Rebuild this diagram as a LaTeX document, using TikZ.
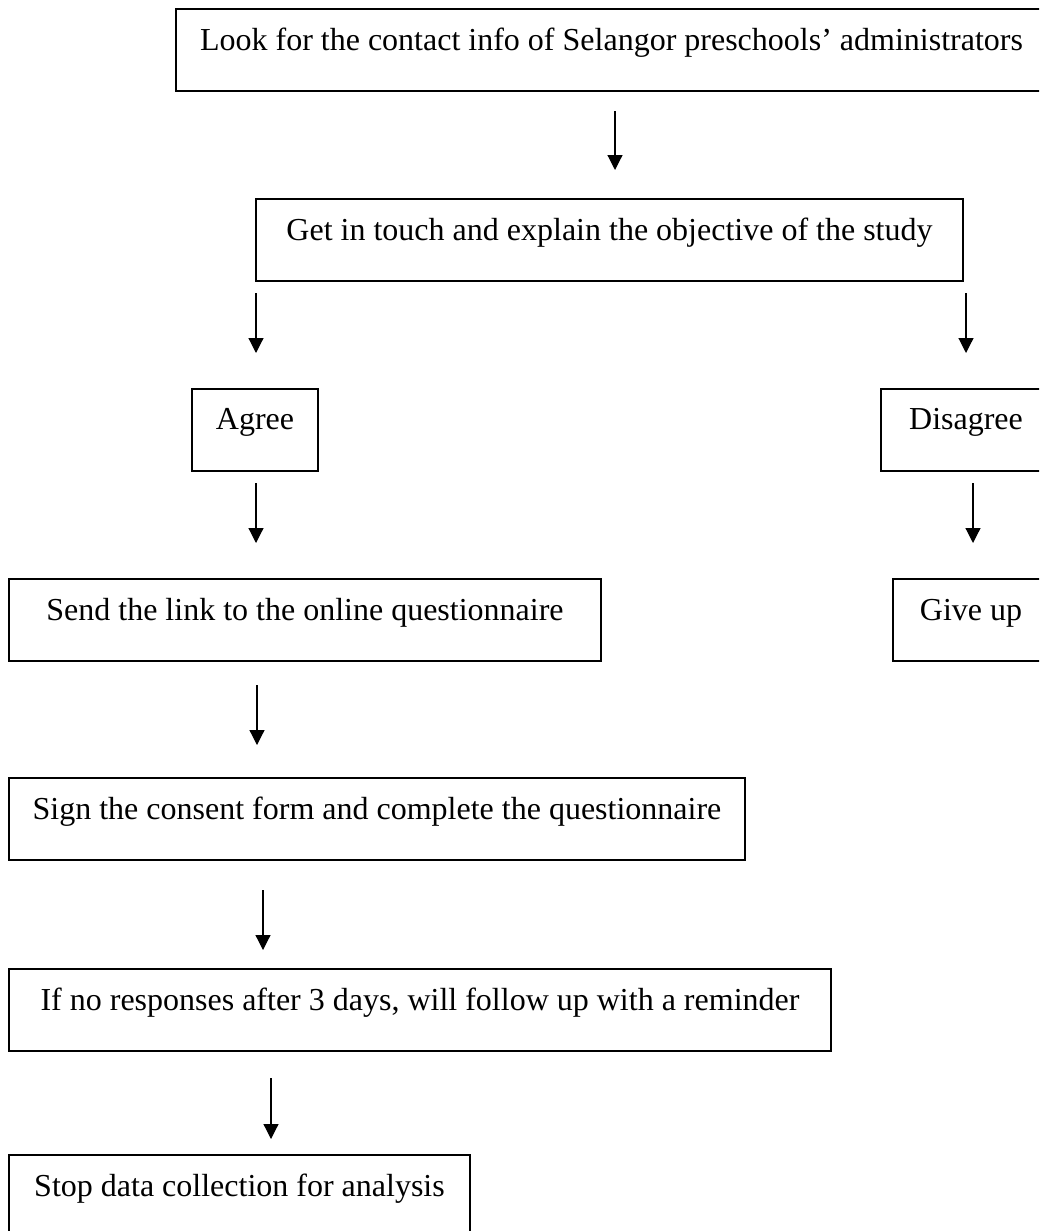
\documentclass[tikz,border=0pt]{standalone}
\usepackage{fontspec}
\setmainfont{Liberation Serif}
\usepackage{tikz}
\usetikzlibrary{arrows.meta}

\tikzset{
  stepbox/.style={draw=black, line width=1pt, inner sep=0pt,
    text height=20.5pt, text depth=20.5pt,
    font=\fontsize{16}{19}\selectfont},
  link/.style={draw=black, line width=0.6pt,
    -{Triangle[width=7.5pt,length=7.5pt]}}
}

\begin{document}
\begin{tikzpicture}[x=0.5pt,y=-0.5pt]
\useasboundingbox (0,0) rectangle (1039,1231);
\clip (0,0) rectangle (1039,1231);
% boxes
\node [stepbox, minimum width=435.5pt] (look) at (611.5,50) {Look for the contact info of Selangor preschools’ administrators};
\node [stepbox, minimum width=353.5pt] (touch) at (609.5,240) {Get in touch and explain the objective of the study};
\node [stepbox, minimum width=63pt] (agree) at (255,429.5) {Agree};
\node [stepbox, minimum width=85pt] (disagree) at (966,429.5) {Disagree};
\node [stepbox, minimum width=296pt] (send) at (305,620) {Send the link to the online questionnaire};
\node [stepbox, minimum width=78pt] (giveup) at (971,620) {Give up};
\node [stepbox, minimum width=368pt] (sign) at (377,819) {Sign the consent form and complete the questionnaire};
\node [stepbox, minimum width=411pt] (remind) at (420,1010) {If no responses after 3 days, will follow up with a reminder};
\node [stepbox, minimum width=230.5pt] (stop) at (239.5,1196) {Stop data collection for analysis};
% arrow ends
\coordinate (look-s) at (615,111);   \coordinate (touch-n) at (615,170);
\coordinate (touch-sw) at (256,293); \coordinate (agree-n) at (256,353);
\coordinate (touch-se) at (966,293); \coordinate (disagree-n) at (966,353);
\coordinate (agree-s) at (256,483);  \coordinate (send-n) at (256,543);
\coordinate (disagree-s) at (973,483); \coordinate (giveup-n) at (973,543);
\coordinate (send-s) at (257,685);   \coordinate (sign-n) at (257,745);
\coordinate (sign-s) at (263,890);   \coordinate (remind-n) at (263,950);
\coordinate (remind-s) at (271,1078); \coordinate (stop-n) at (271,1139);
% arrows
\draw [link] (look-s) -- (touch-n);
\draw [link] (touch-sw) -- (agree-n);
\draw [link] (touch-se) -- (disagree-n);
\draw [link] (agree-s) -- (send-n);
\draw [link] (disagree-s) -- (giveup-n);
\draw [link] (send-s) -- (sign-n);
\draw [link] (sign-s) -- (remind-n);
\draw [link] (remind-s) -- (stop-n);
\end{tikzpicture}
\end{document}
